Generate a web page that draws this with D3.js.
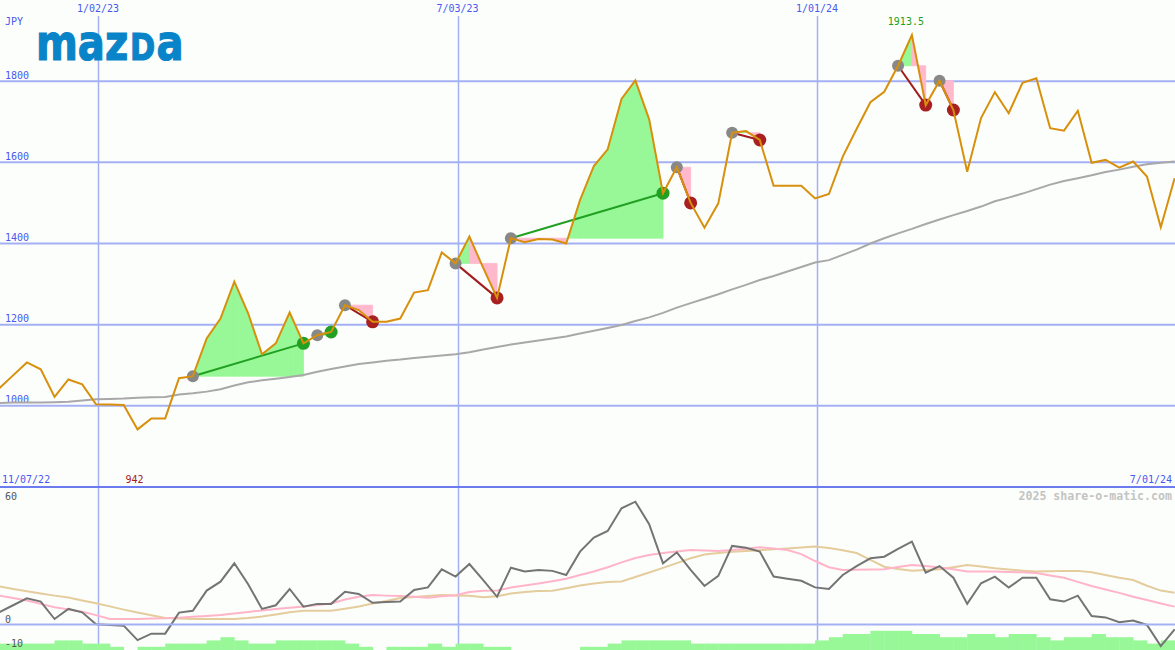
<!DOCTYPE html>
<html><head><meta charset="utf-8">
<script src="https://cdn.jsdelivr.net/npm/d3@7"></script>
<style>
html,body{margin:0;padding:0;background:#fcfefc;}
svg{display:block;}
text{font-family:"DejaVu Sans Mono",monospace;}
</style></head><body>
<svg id="chart" width="1175" height="650"></svg>
<script>
// ---- data (weekly closes) ----
const startDate = "2022-11-06";
const price = [1030,1043,1075,1107,1090,1022,1065,1053,1004,1003,
  1002,942,969,969,1068,1073,1166,1215,1306,1228,
  1127,1154,1230,1154,1174,1182,1248,1236,1207,1207,
  1215,1279,1285,1378,1351,1417,1340,1266,1413,1403,
  1411,1410,1400,1507,1591,1632,1756,1802,1706,1524,
  1588,1500,1439,1499,1673,1677,1655,1542,1542,1542,
  1511,1522,1614,1682,1748,1774,1838,1913.5,1741,1801,
  1729,1577,1709,1773,1721,1796,1807,1684,1678,1727,
  1599,1606,1587,1602,1565,1440,1561];
const movingAvg = [1007,1007,1008,1008,1008,1009,1010,1013,1016,1017,
  1018,1020,1021,1022,1028,1031,1035,1041,1050,1058,
  1063,1067,1071,1076,1084,1091,1097,1103,1107,1111,
  1114,1118,1121,1124,1127,1132,1139,1145,1151,1156,
  1161,1166,1171,1178,1185,1192,1199,1209,1218,1229,
  1242,1253,1264,1275,1287,1298,1310,1320,1331,1342,
  1353,1359,1372,1385,1400,1413,1425,1436,1448,1459,
  1470,1480,1491,1504,1513,1523,1534,1545,1554,1561,
  1568,1576,1582,1589,1595,1599,1602];
const osc = [3,5.3,8.4,11.4,10,2.4,6.8,5.3,0.1,-0.2,
  -0.5,-6.8,-4,-4,5.2,6,14.8,18.7,26.7,17.6,
  6.8,8.4,15.5,7.8,9,9,14.3,13.3,9.5,9.8,
  10,15.1,16.2,24.1,20.9,26.4,19.4,12.1,24.8,23.1,
  23.8,23.4,21.6,31.8,37.9,40.8,50.7,53.6,43.8,26.7,
  31.5,23.8,16.8,21.2,34.3,33.5,31.8,20.9,20,19.1,
  16.2,15.5,21.6,25.5,28.9,29.6,33,36.2,22.6,25.5,
  20.4,9,18,20.9,16.1,20.4,20.4,11,10,12.6,
  3.7,3.1,1,1.7,-0.2,-9.4,-2.1];
const oscFast = [13.8,12.6,11.6,10.5,9,7.5,6.6,5.6,4.1,2.4,
  2.4,2.4,2.6,2.7,3,3.4,3.7,4.1,4.8,5.5,
  6.1,6.8,7.3,7.9,8.5,9.2,10.9,12.1,12.9,12.6,
  12.4,12.1,11.7,12.3,12.8,14.2,14.7,14.8,16.1,17,
  17.9,18.9,20,21.6,23.1,25,27.1,29,30.3,31.2,
  31.9,32.5,32.3,32.1,32.5,33.1,33.7,33.2,32.5,30.7,
  27.7,25,23.8,23.9,24,24.1,25.1,26,25.5,24.9,
  24.1,23.1,23.1,23.1,22.9,22.8,22.5,21.4,20.4,18.6,
  16.8,15.3,13.8,12.1,10.7,9.2,7.8];
const oscSlow = [17.6,16.6,15.5,14.5,13.5,12.6,11.8,10.5,9.3,7.9,
  6.5,5.2,4,2.8,2.6,2.4,2.4,2.4,2.4,2.8,
  3.5,4.4,5.3,6,6,6,6.9,7.9,9.2,10.3,
  11.6,12,12.4,12.9,12.7,12.5,11.9,12.3,13.5,14.2,
  14.6,14.7,15.8,17,17.9,18.5,18.8,20.7,22.7,24.7,
  26.8,28.9,30.5,31.2,31.7,32.1,32.4,32.8,33.2,33.6,
  34,33.4,32.4,31.2,28.2,25.2,24.2,23.5,23.8,24.1,
  25,26,25.3,24.5,24,23.5,23.1,23.2,23.4,23.4,
  22.8,21.6,20.4,19.4,16.9,14.8,13.9];
const volume = [2,2,2,2,2,3,3,2,2,1,
  0,1,1,2,2,2,3,4,3,2,
  2,3,3,3,3,3,2,1,0,1,
  1,1,2,1,2,2,1,1,0,0,
  0,0,0,1,1,2,3,3,3,3,
  3,2,2,2,2,2,2,2,2,2,
  3,4,5,5,6,6,6,5,5,4,
  4,5,5,4,5,5,4,3,4,4,
  5,4,4,3,2,3,3];
const signalStart = [15,24,26,34,38,50,54,66,69];
const signalEnd   = [23,25,28,37,49,51,56,68,70];
const signalType  = ["up","up","down","down","up","down","down","down","down"];
const priceTicks = [1000,1200,1400,1600,1800];
const dateTicks = ["2023-01-02","2023-07-03","2024-01-01"];
const dateTickLabels = ["1/02/23","7/03/23","1/01/24"];
const oscTicks = [60,0,-10];
const rangeStart = "2022-11-07", rangeEnd = "2024-07-01";
const rangeLabels = ["11/07/22","7/01/24"];
const currency = "JPY";
const credit = "2025 share-o-matic.com";
const logoParts = ["maz", "D", "a"];

// ---- scales ----
const W = 1175, H = 650;
const parse = d3.utcParse("%Y-%m-%d");
const t0 = parse(startDate);
const dates = price.map((_, i) => d3.utcDay.offset(t0, 7 * i));
const x = d3.scaleUtc().domain([parse(rangeStart), parse(rangeEnd)]).range([-12.6, 1176.6]);
const y = d3.scaleLinear().domain([800, 2000]).range([487, 0]);
const yo = d3.scaleLinear().domain([0, 60]).range([624.5, 487]);
const yv = d3.scaleLinear().domain([0, 6.25]).range([650, 630]);

const svg = d3.select("#chart");
svg.append("rect").attr("width", W).attr("height", H).attr("fill", "#fcfefc");
const defs = svg.append("defs");
defs.append("clipPath").attr("id", "top").append("rect").attr("x", 0).attr("y", 0).attr("width", W).attr("height", 486);
defs.append("clipPath").attr("id", "bot").append("rect").attr("x", 0).attr("y", 488).attr("width", W).attr("height", 162);

const BLUE_GRID = "#a4b0f4", BLUE_TXT = "#4858f0";
const GREEN_FILL = "#98f898", PINK_FILL = "#ffb8cc";

// vertical date gridlines
svg.append("g").selectAll("line").data(dateTicks).join("line")
  .attr("x1", d => Math.round(x(parse(d))) + 0.5).attr("x2", d => Math.round(x(parse(d))) + 0.5)
  .attr("y1", 16).attr("y2", H)
  .attr("stroke", BLUE_GRID).attr("stroke-width", 1.5);

// lower panel bars
const gBot = svg.append("g").attr("clip-path", "url(#bot)");
gBot.selectAll("rect").data(volume.map((v, i) => ({v, i})).filter(d => d.v > 0)).join("rect")
  .attr("x", d => x(dates[d.i]))
  .attr("width", d => d.i < dates.length - 1 ? x(dates[d.i + 1]) - x(dates[d.i]) + 0.4 : 14)
  .attr("y", d => yv(d.v)).attr("height", d => yv(0) - yv(d.v))
  .attr("fill", GREEN_FILL);

// horizontal price gridlines
svg.append("g").selectAll("line").data(priceTicks).join("line")
  .attr("x1", 0).attr("x2", W).attr("y1", d => y(d)).attr("y2", d => y(d))
  .attr("stroke", BLUE_GRID).attr("stroke-width", 2);
svg.append("g").selectAll("text").data(priceTicks).join("text")
  .attr("x", 5).attr("y", d => y(d) - 2.5).text(d => d)
  .attr("font-size", 10).attr("fill", BLUE_TXT);

// oscillator zero line
svg.append("line").attr("x1", 0).attr("x2", W).attr("y1", yo(0)).attr("y2", yo(0))
  .attr("stroke", BLUE_GRID).attr("stroke-width", 2);
// separator
svg.append("line").attr("x1", 0).attr("x2", W).attr("y1", yo(60)).attr("y2", yo(60))
  .attr("stroke", "#6c7cf0").attr("stroke-width", 2);

// ---- main panel ----
const gTop = svg.append("g").attr("clip-path", "url(#top)");
const sig = signalStart.map((s, k) => ({s, e: signalEnd[k], type: signalType[k]}));
sig.forEach(sg => {
  const base = price[sg.s];
  let dG = "", dP = "";
  for (let k = sg.s; k < sg.e; k++) {
    const pts = [[x(dates[k]), y(price[k])], [x(dates[k + 1]), y(price[k + 1])],
                 [x(dates[k + 1]), y(base)], [x(dates[k]), y(base)]];
    const seg = "M" + pts.map(p => p.join(",")).join("L") + "Z";
    if (price[k + 1] >= base) dG += seg; else dP += seg;
  }
  if (dG) gTop.append("path").attr("d", dG).attr("fill", GREEN_FILL).attr("stroke", GREEN_FILL).attr("stroke-width", 0.8);
  if (dP) gTop.append("path").attr("d", dP).attr("fill", PINK_FILL).attr("stroke", PINK_FILL).attr("stroke-width", 0.8);
});

gTop.append("path").datum(movingAvg)
  .attr("d", d3.line().x((d, i) => x(dates[i])).y(d => y(d)))
  .attr("fill", "none").attr("stroke", "#a8a8a8").attr("stroke-width", 2);

gTop.selectAll("line.conn").data(sig).join("line").attr("class", "conn")
  .attr("x1", d => x(dates[d.s])).attr("y1", d => y(price[d.s]))
  .attr("x2", d => x(dates[d.e])).attr("y2", d => y(price[d.e]))
  .attr("stroke", d => d.type === "up" ? "#22a022" : "#a01c1c").attr("stroke-width", 2);

gTop.selectAll("circle.st").data(sig).join("circle").attr("class", "st")
  .attr("cx", d => x(dates[d.s])).attr("cy", d => y(price[d.s])).attr("r", 6)
  .attr("fill", "#888888");
gTop.selectAll("circle.en").data(sig).join("circle").attr("class", "en")
  .attr("cx", d => x(dates[d.e])).attr("cy", d => y(price[d.e])).attr("r", 6.5)
  .attr("fill", d => d.type === "up" ? "#22a022" : "#a82020");

gTop.append("path").datum(price)
  .attr("d", d3.line().x((d, i) => x(dates[i])).y(d => y(d)))
  .attr("fill", "none").attr("stroke", "#d8900c").attr("stroke-width", 2).attr("stroke-linejoin", "miter");

// ---- lower panel lines ----
const lineO = d3.line().x((d, i) => x(dates[i])).y(d => yo(d));
gBot.append("path").datum(oscSlow).attr("d", lineO).attr("fill", "none").attr("stroke", "#e4cc9c").attr("stroke-width", 2);
gBot.append("path").datum(oscFast).attr("d", lineO).attr("fill", "none").attr("stroke", "#ffb4c8").attr("stroke-width", 2);
gBot.append("path").datum(osc).attr("d", lineO).attr("fill", "none").attr("stroke", "#747474").attr("stroke-width", 2);

// ---- texts ----
svg.append("g").selectAll("text").data(dateTicks).join("text")
  .attr("x", d => x(parse(d))).attr("y", 12).attr("text-anchor", "middle")
  .attr("font-size", 10).attr("fill", BLUE_TXT).text((d, i) => dateTickLabels[i]);
svg.append("text").attr("x", 5).attr("y", 25).attr("font-size", 10).attr("fill", BLUE_TXT).text(currency);

// brand logo: pieces laid out side by side, each squeezed horizontally
const logoSize = [49, 37, 49], logoScaleX = 0.82;
let logoCursor = 36;
logoParts.forEach((part, i) => {
  const g = svg.append("g");
  const t = g.append("text").attr("x", 0).attr("y", 0)
    .attr("font-size", logoSize[i])
    .style("font-family", "'DejaVu Sans', sans-serif").attr("font-weight", "bold")
    .attr("fill", "#0a84c8").attr("stroke", "#0a84c8").attr("stroke-width", 1.2)
    .text(part);
  const w = t.node().getComputedTextLength();
  g.attr("transform", `translate(${logoCursor},60) scale(${logoScaleX},1)`);
  logoCursor += w * logoScaleX + 1.5;
});

const iMax = d3.maxIndex(price), iMin = d3.minIndex(price);
svg.append("text").attr("x", x(dates[iMax]) - 6).attr("y", 25).attr("text-anchor", "middle")
  .attr("font-size", 10).attr("fill", "#22a022").text(price[iMax]);
svg.append("text").attr("x", x(dates[iMin]) - 3).attr("y", 483).attr("text-anchor", "middle")
  .attr("font-size", 10).attr("fill", "#a02020").text(price[iMin]);

svg.append("text").attr("x", 2).attr("y", 483).attr("font-size", 10).attr("fill", BLUE_TXT).text(rangeLabels[0]);
svg.append("text").attr("x", 1172).attr("y", 483).attr("text-anchor", "end").attr("font-size", 10).attr("fill", BLUE_TXT).text(rangeLabels[1]);
svg.append("text").attr("x", 1172).attr("y", 500).attr("text-anchor", "end").attr("font-size", 11.6)
  .attr("font-weight", "bold").attr("fill", "#c4c4c4").text(credit);

const oscLabelY = {60: 500, 0: yo(0) - 1.5, "-10": yo(-10) - 0.5};
svg.append("g").selectAll("text").data(oscTicks).join("text")
  .attr("x", 5).attr("y", d => oscLabelY[d]).attr("font-size", 10).attr("fill", "#555555").text(d => d);
</script>
</body></html>
